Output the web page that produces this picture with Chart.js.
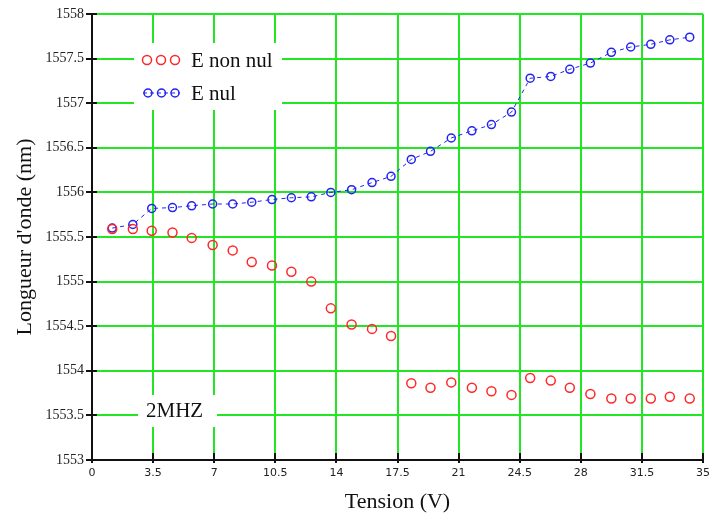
<!DOCTYPE html>
<html>
<head>
<meta charset="utf-8">
<script src="https://cdn.jsdelivr.net/npm/chart.js@4/dist/chart.umd.min.js"></script>
<style>
  html, body { margin: 0; padding: 0; background: #fff; }
  #wrap { width: 714px; height: 518px; }
</style>
</head>
<body>
<div id="wrap"><canvas id="c" width="714" height="518"></canvas></div>
<script>
// ---- data ----
const tension = [1.16, 2.34, 3.42, 4.61, 5.71, 6.91, 8.06, 9.15, 10.31, 11.42,
                 12.56, 13.68, 14.87, 16.04, 17.13, 18.29, 19.39, 20.58, 21.76, 22.88,
                 24.03, 25.10, 26.28, 27.37, 28.55, 29.75, 30.86, 32.01, 33.10, 34.24];
const eNonNul = [1555.59, 1555.59, 1555.57, 1555.55, 1555.49, 1555.41, 1555.35, 1555.22, 1555.18, 1555.11,
                 1555.00, 1554.70, 1554.52, 1554.47, 1554.39, 1553.86, 1553.81, 1553.87, 1553.81, 1553.77,
                 1553.73, 1553.92, 1553.89, 1553.81, 1553.74, 1553.69, 1553.69, 1553.69, 1553.71, 1553.69];
const eNul = [1555.60, 1555.64, 1555.82, 1555.83, 1555.85, 1555.87, 1555.87, 1555.89, 1555.92, 1555.94,
              1555.95, 1556.00, 1556.03, 1556.11, 1556.18, 1556.37, 1556.46, 1556.61, 1556.69, 1556.76,
              1556.90, 1557.28, 1557.30, 1557.38, 1557.45, 1557.57, 1557.63, 1557.66, 1557.71, 1557.74];
const xTicks = [0, 3.5, 7, 10.5, 14, 17.5, 21, 24.5, 28, 31.5, 35];
const yTicks = [1553, 1553.5, 1554, 1554.5, 1555, 1555.5, 1556, 1556.5, 1557, 1557.5, 1558];
const seriesNames = ['E non nul', 'E nul'];
const annotationText = '2MHZ';
const xTitle = 'Tension (V)';
const yTitle = "Longueur d'onde (nm)";

const RED = 'rgb(255,40,40)';
const BLUE = 'rgb(35,35,240)';
const GREEN = '#22e622';
const SERIF = '"Liberation Serif", "Times New Roman", serif';

const toPts = (xs, ys) => xs.map((x, i) => ({ x: x, y: ys[i] }));

const overlayPlugin = {
  id: 'overlay',
  beforeDatasetsDraw(chart) {
    const ctx = chart.ctx;
    const xs = chart.scales.x, ys = chart.scales.y;
    const area = chart.chartArea;
    ctx.save();
    // inner black tick marks
    ctx.strokeStyle = '#111';
    ctx.lineWidth = 2;
    xTicks.forEach(v => {
      const px = Math.round(xs.getPixelForValue(v));
      ctx.beginPath(); ctx.moveTo(px, area.bottom); ctx.lineTo(px, area.bottom - 7); ctx.stroke();
    });
    yTicks.forEach(v => {
      const py = Math.round(ys.getPixelForValue(v));
      ctx.beginPath(); ctx.moveTo(area.left, py); ctx.lineTo(area.left + 5, py); ctx.stroke();
    });
    // legend box
    ctx.fillStyle = '#fff';
    ctx.fillRect(134, 43, 148, 67);
    // annotation box
    ctx.fillRect(138, 395, 79, 32);

    // legend items
    ctx.lineWidth = 1.5;
    ctx.strokeStyle = RED;
    [147, 161, 175].forEach(cx => {
      ctx.beginPath(); ctx.arc(cx, 60, 4.5, 0, Math.PI * 2); ctx.stroke();
    });
    ctx.strokeStyle = BLUE;
    [148, 161.5, 175].forEach(cx => {
      ctx.beginPath(); ctx.arc(cx, 93, 4, 0, Math.PI * 2); ctx.stroke();
    });
    ctx.lineWidth = 1;
    ctx.setLineDash([4, 3]);
    ctx.beginPath(); ctx.moveTo(143, 93); ctx.lineTo(180, 93); ctx.stroke();
    ctx.setLineDash([]);

    ctx.fillStyle = '#111';
    ctx.font = '21px ' + SERIF;
    ctx.textBaseline = 'middle';
    ctx.textAlign = 'left';
    ctx.fillText(seriesNames[0], 191, 61);
    ctx.fillText(seriesNames[1], 191, 94);
    ctx.fillText(annotationText, 146, 411);
    ctx.restore();
  }
};

new Chart(document.getElementById('c'), {
  type: 'scatter',
  data: {
    datasets: [
      {
        label: seriesNames[0],
        data: toPts(tension, eNonNul),
        showLine: false,
        pointStyle: 'circle',
        pointRadius: 4.5,
        pointBorderWidth: 1.5,
        borderColor: RED,
        backgroundColor: 'rgba(0,0,0,0)',
        pointBackgroundColor: 'rgba(0,0,0,0)'
      },
      {
        label: seriesNames[1],
        data: toPts(tension, eNul),
        showLine: true,
        borderDash: [4, 4],
        borderWidth: 1,
        pointStyle: 'circle',
        pointRadius: 4,
        pointBorderWidth: 1.5,
        borderColor: BLUE,
        pointBorderColor: BLUE,
        backgroundColor: 'rgba(0,0,0,0)',
        pointBackgroundColor: 'rgba(0,0,0,0)'
      }
    ]
  },
  options: {
    responsive: false,
    animation: false,
    devicePixelRatio: 1,
    layout: { padding: { top: 14, right: 10, left: 0, bottom: 0 } },
    plugins: {
      legend: { display: false },
      tooltip: { enabled: false }
    },
    scales: {
      x: {
        type: 'linear',
        min: 0, max: 35,
        afterBuildTicks: (s) => { s.ticks = xTicks.map(v => ({ value: v })); },
        afterFit: (s) => { s.height = 58; },
        grid: { color: GREEN, lineWidth: 2, tickColor: '#111', tickLength: 3, drawTicks: true },
        border: { color: '#111', width: 2 },
        ticks: {
          color: '#222',
          padding: 4,
          font: { family: '"DejaVu Sans", sans-serif', size: 11 },
          callback: (v) => String(v)
        },
        title: {
          display: true, text: xTitle, color: '#111',
          font: { family: SERIF, size: 22 },
          padding: { top: 0, bottom: 3 }
        }
      },
      y: {
        type: 'linear',
        min: 1553, max: 1558,
        afterBuildTicks: (s) => { s.ticks = yTicks.map(v => ({ value: v })); },
        afterFit: (s) => { s.width = 92; },
        grid: { color: GREEN, lineWidth: 2, tickColor: '#111', tickLength: 6, drawTicks: true },
        border: { color: '#111', width: 2 },
        ticks: {
          color: '#222',
          padding: 2,
          font: { family: SERIF, size: 14 },
          callback: (v) => String(v)
        },
        title: {
          display: true, text: yTitle, color: '#111',
          font: { family: SERIF, size: 22 },
          padding: { top: 12, bottom: 0 }
        }
      }
    }
  },
  plugins: [overlayPlugin]
});
</script>
</body>
</html>
